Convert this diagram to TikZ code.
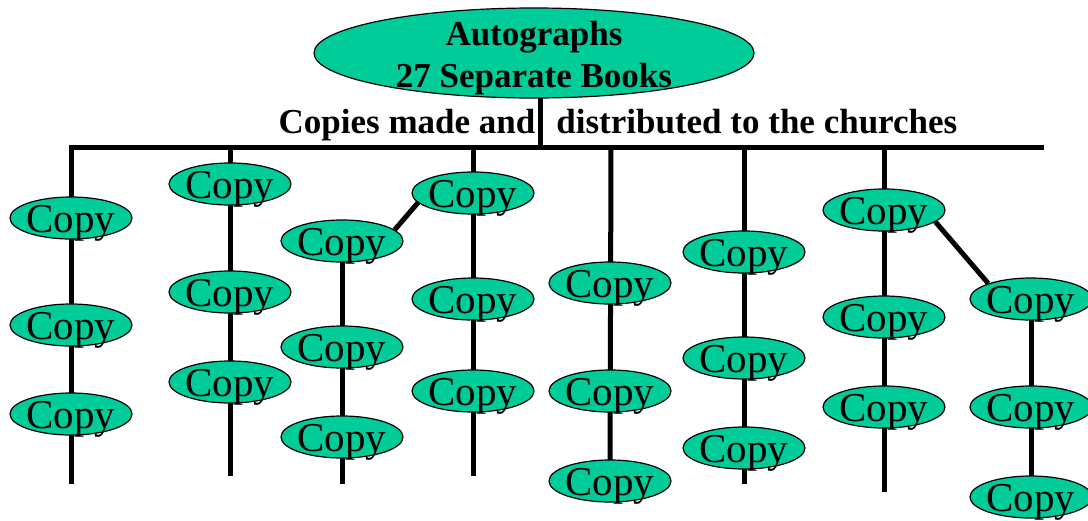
\documentclass[tikz,border=0pt]{standalone}
\usepackage{fontspec}
\setmainfont{Liberation Serif}
\usetikzlibrary{shapes.geometric,backgrounds}
\definecolor{copygreen}{RGB}{0,204,153}
\tikzset{
  copytext/.style={font=\fontsize{41}{41}\selectfont, inner sep=0pt, yshift=-5pt},
  copybox/.style={ellipse, draw, line width=1.2pt, fill=copygreen, minimum width=122pt,
    minimum height=42pt, inner sep=0pt, label={[copytext]center:Copy}},
  toptext/.style={font=\bfseries\fontsize{35}{42}\selectfont, align=center, inner sep=0pt, yshift=-5pt},
  bar/.style={line width=5pt},
}

\begin{document}
\begin{tikzpicture}[x=1pt,y=-1pt]
\useasboundingbox (0,0) rectangle (1088,520);

% Autographs

\node[ellipse, draw, line width=1.2pt, fill=copygreen, minimum width=440pt, minimum height=90pt,
  label={[toptext]center:{Autographs\\27 Separate Books}}] (auto) at (534,53) {};

\coordinate (hub) at (540,147);
\coordinate (r1) at (71,147);
\coordinate (r2) at (230,147);
\coordinate (r4) at (473,147);
\coordinate (r5) at (611,147);
\coordinate (r6) at (744,147);
\coordinate (r7) at (884,147);
\coordinate (rend) at (1044,147);

\node[font=\bfseries\fontsize{35}{42}\selectfont, anchor=base] (caption) at (618,133)
  {Copies made and\hspace{0.6em}distributed to the churches};

% Copies

\node[copybox] (c11) at (71,218) {};
\node[copybox] (c12) at (71,325) {};
\node[copybox] (c13) at (71,414) {};
\coordinate (e1) at (71,484);

\node[copybox] (c21) at (230,184) {};
\node[copybox] (c22) at (230,292) {};
\node[copybox] (c23) at (230,382) {};
\coordinate (e2) at (230,476);

\node[copybox] (c31) at (342,241) {};
\node[copybox] (c32) at (342,347) {};
\node[copybox] (c33) at (342,437) {};
\coordinate (e3) at (342,484);

\node[copybox] (c41) at (473,193) {};
\node[copybox] (c42) at (473,299) {};
\node[copybox] (c43) at (473,391) {};
\coordinate (e4) at (473,476);

\node[copybox] (c51) at (610,283) {};
\node[copybox] (c52) at (610,391) {};
\node[copybox] (c53) at (610,481) {};

\node[copybox] (c61) at (744,252) {};
\node[copybox] (c62) at (744,358) {};
\node[copybox] (c63) at (744,448) {};
\coordinate (e6) at (744,484);

\node[copybox] (c71) at (884,210) {};
\node[copybox] (c72) at (884,317) {};
\node[copybox] (c73) at (884,407) {};
\coordinate (e7) at (884,492);

\node[copybox] (c81) at (1031,299) {};
\node[copybox] (c82) at (1031,407) {};
\node[copybox] (c83) at (1031,497) {};

\draw[bar] (c31.12) -- (c41.190);
\draw[bar] (c71.-13) -- (c81.160);

\begin{pgfonlayer}{background}
\draw[bar] (auto.center -| hub) -- (hub);
\draw[bar] (e1) -- (r1) -- (rend);
\draw[bar] (r2) -- (e2);
\draw[bar] (c31.center) -- (e3);
\draw[bar] (r4) -- (e4);
\draw[bar] (r5) -- (c53.center);
\draw[bar] (r6) -- (e6);
\draw[bar] (r7) -- (e7);
\draw[bar] (c81.center) -- (c83.center);
\end{pgfonlayer}

\end{tikzpicture}
\end{document}
